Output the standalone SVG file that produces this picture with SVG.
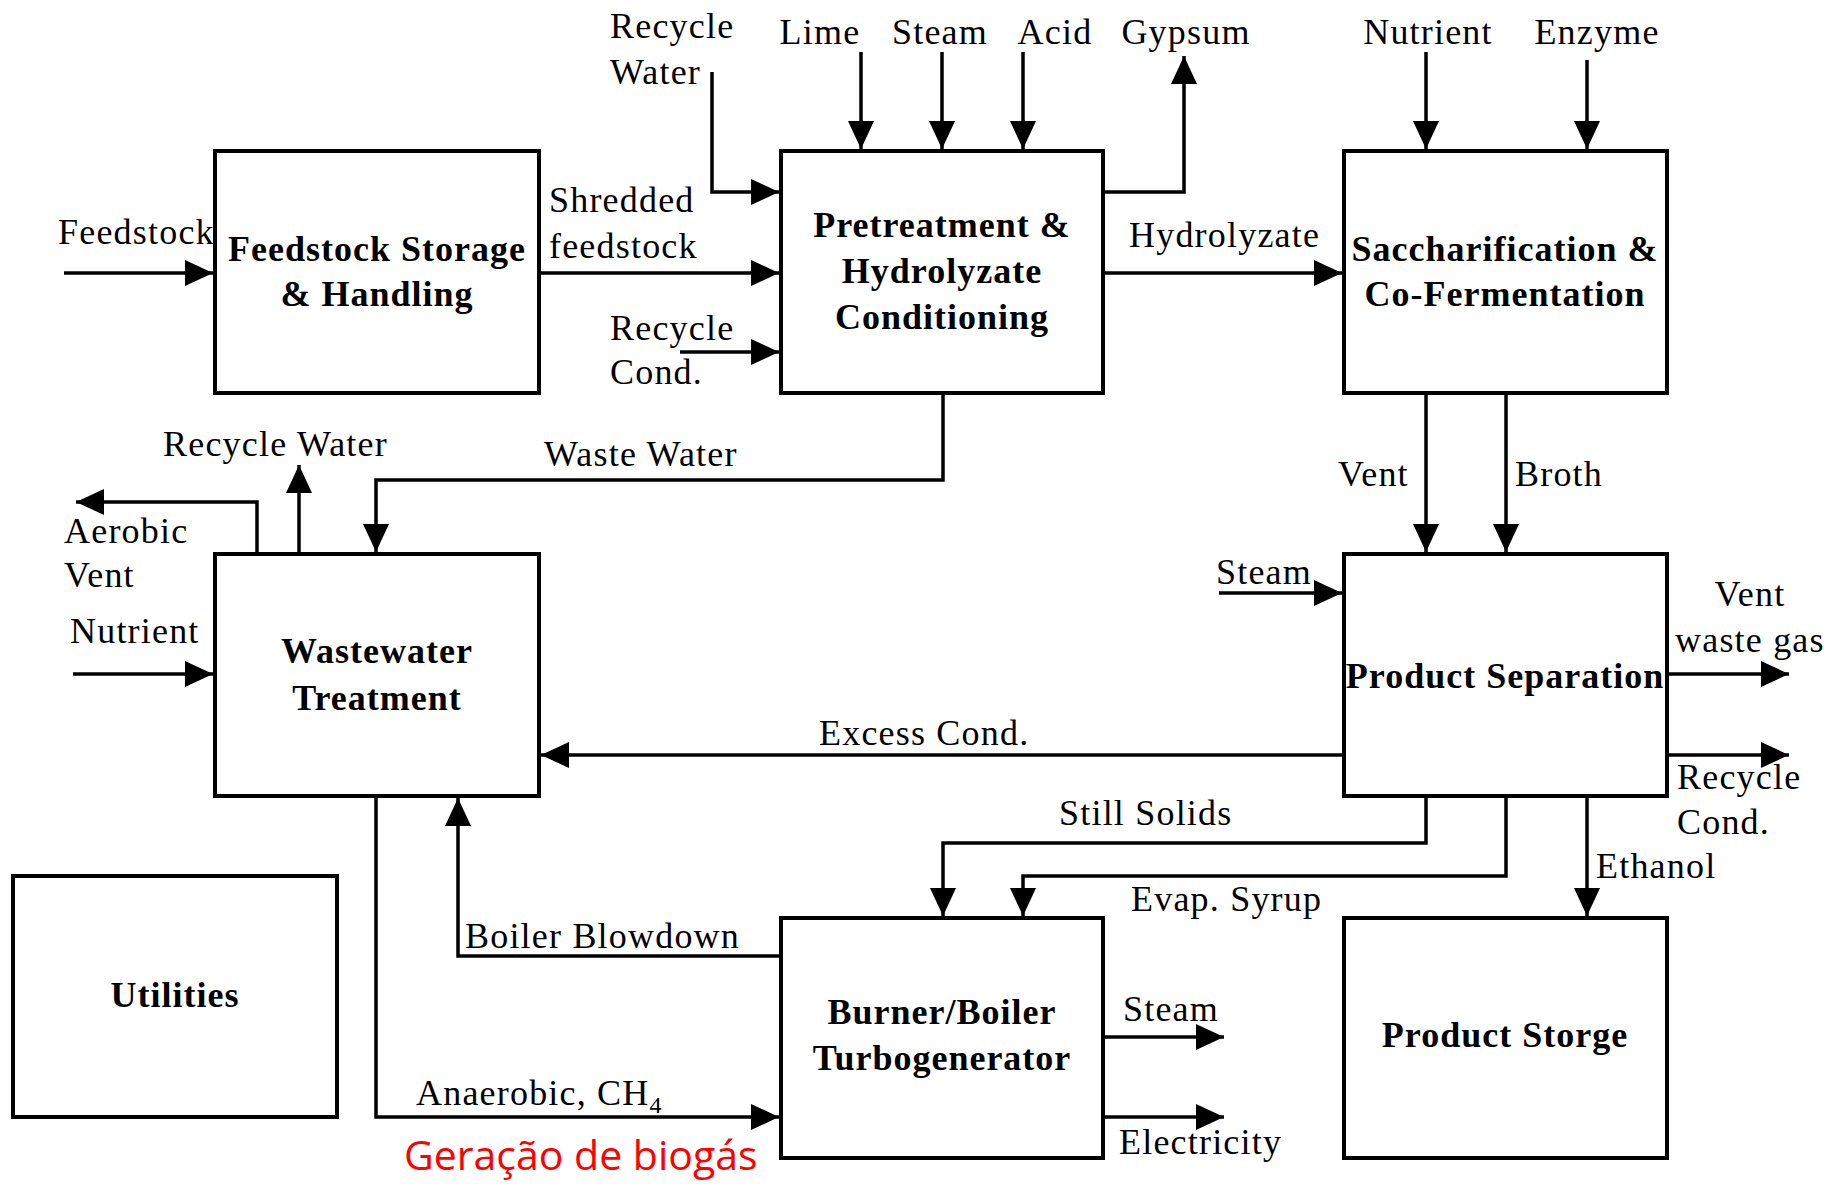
<svg xmlns="http://www.w3.org/2000/svg" width="1824" height="1184" viewBox="0 0 1824 1184">
<style>
.box{fill:#fff;stroke:#000;stroke-width:4}
.t{font-family:"Liberation Serif","Times New Roman",serif;font-size:36px;fill:#000;letter-spacing:1.2px}
.b{font-family:"Liberation Serif","Times New Roman",serif;font-size:36px;font-weight:bold;fill:#000;text-anchor:middle;letter-spacing:1px}
.c{fill:none;stroke:#000;stroke-width:3.5}
.a{marker-end:url(#ah)}
.red{font-family:"Open Sans","Noto Sans",sans-serif;font-size:41px;fill:#ff0000}
</style>
<defs>
<marker id="ah" markerUnits="userSpaceOnUse" markerWidth="30" markerHeight="28" refX="28" refY="13" orient="auto">
<path d="M0,0 L28,13 L0,26 z" fill="#000"/>
</marker>
</defs>
<rect width="1824" height="1184" fill="#fff"/>

<g id="connectors">
<path class="c a" d="M64,273 H213"/>
<path class="c a" d="M539,273 H779"/>
<path class="c a" d="M712,72 V192 H779"/>
<path class="c a" d="M680,352 H779"/>
<path class="c a" d="M861,52 V149"/>
<path class="c a" d="M942,52 V149"/>
<path class="c a" d="M1023,52 V149"/>
<path class="c a" d="M1103,192 H1184 V56"/>
<path class="c a" d="M1103,273 H1342"/>
<path class="c a" d="M1426,52 V149"/>
<path class="c a" d="M1587,60 V149"/>
<path class="c a" d="M1426,393 V552"/>
<path class="c a" d="M1506,393 V552"/>
<path class="c a" d="M943,393 V480 H376 V552"/>
<path class="c a" d="M299,554 V465"/>
<path class="c a" d="M257,554 V502 H76"/>
<path class="c a" d="M73,674 H213"/>
<path class="c a" d="M1344,755 H541"/>
<path class="c a" d="M1219,593 H1342"/>
<path class="c a" d="M1667,674 H1789"/>
<path class="c a" d="M1667,755 H1789"/>
<path class="c a" d="M1426,796 V843 H943 V916"/>
<path class="c a" d="M1506,796 V876 H1023 V916"/>
<path class="c a" d="M1587,796 V916"/>
<path class="c a" d="M781,956 H458 V798"/>
<path class="c a" d="M376,796 V1117 H779"/>
<path class="c a" d="M1103,1037 H1224"/>
<path class="c a" d="M1103,1117 H1224"/>
</g>

<g id="labels">
<text class="t" x="58" y="244">Feedstock</text>
<text class="t" x="549" y="212">Shredded</text>
<text class="t" x="549" y="258">feedstock</text>
<text class="t" x="610" y="38">Recycle</text>
<text class="t" x="610" y="84">Water</text>
<text class="t" x="610" y="340">Recycle</text>
<text class="t" x="610" y="384">Cond.</text>
<text class="t" x="820" y="44" text-anchor="middle">Lime</text>
<text class="t" x="940" y="44" text-anchor="middle">Steam</text>
<text class="t" x="1055" y="44" text-anchor="middle">Acid</text>
<text class="t" x="1186" y="44" text-anchor="middle">Gypsum</text>
<text class="t" x="1129" y="247">Hydrolyzate</text>
<text class="t" x="1428" y="44" text-anchor="middle">Nutrient</text>
<text class="t" x="1597" y="44" text-anchor="middle">Enzyme</text>
<text class="t" x="1338" y="486">Vent</text>
<text class="t" x="1515" y="486">Broth</text>
<text class="t" x="544" y="466">Waste Water</text>
<text class="t" x="163" y="456">Recycle Water</text>
<text class="t" x="64" y="543">Aerobic</text>
<text class="t" x="64" y="587">Vent</text>
<text class="t" x="70" y="643">Nutrient</text>
<text class="t" x="819" y="745">Excess Cond.</text>
<text class="t" x="1216" y="584">Steam</text>
<text class="t" x="1750" y="606" text-anchor="middle">Vent</text>
<text class="t" x="1675" y="652">waste gas</text>
<text class="t" x="1677" y="789">Recycle</text>
<text class="t" x="1677" y="834">Cond.</text>
<text class="t" x="1059" y="825">Still Solids</text>
<text class="t" x="1131" y="911">Evap. Syrup</text>
<text class="t" x="1596" y="878">Ethanol</text>
<text class="t" x="465" y="948">Boiler Blowdown</text>
<text class="t" x="416" y="1105">Anaerobic, CH<tspan font-size="24" dy="8">4</tspan></text>
<text class="t" x="1123" y="1021">Steam</text>
<text class="t" x="1119" y="1154">Electricity</text>
<text class="red" x="404" y="1170">Geração de biogás</text>
</g>

<g id="feedstock-storage">
<rect class="box" x="215" y="151" width="324" height="242"/>
<text class="b" x="377" y="261">Feedstock Storage</text>
<text class="b" x="377" y="306">&amp; Handling</text>
</g>
<g id="pretreatment">
<rect class="box" x="781" y="151" width="322" height="242"/>
<text class="b" x="942" y="237">Pretreatment &amp;</text>
<text class="b" x="942" y="283">Hydrolyzate</text>
<text class="b" x="942" y="329">Conditioning</text>
</g>
<g id="saccharification">
<rect class="box" x="1344" y="151" width="323" height="242"/>
<text class="b" x="1505" y="261">Saccharification &amp;</text>
<text class="b" x="1505" y="306">Co-Fermentation</text>
</g>
<g id="wastewater">
<rect class="box" x="215" y="554" width="324" height="242"/>
<text class="b" x="377" y="663">Wastewater</text>
<text class="b" x="377" y="710">Treatment</text>
</g>
<g id="product-separation">
<rect class="box" x="1344" y="554" width="323" height="242"/>
<text class="b" x="1505" y="688">Product Separation</text>
</g>
<g id="utilities">
<rect class="box" x="13" y="876" width="324" height="241"/>
<text class="b" x="175" y="1007">Utilities</text>
</g>
<g id="burner">
<rect class="box" x="781" y="918" width="322" height="240"/>
<text class="b" x="942" y="1024">Burner/Boiler</text>
<text class="b" x="942" y="1070">Turbogenerator</text>
</g>
<g id="product-storage">
<rect class="box" x="1344" y="918" width="323" height="240"/>
<text class="b" x="1505" y="1047">Product Storge</text>
</g>
</svg>
